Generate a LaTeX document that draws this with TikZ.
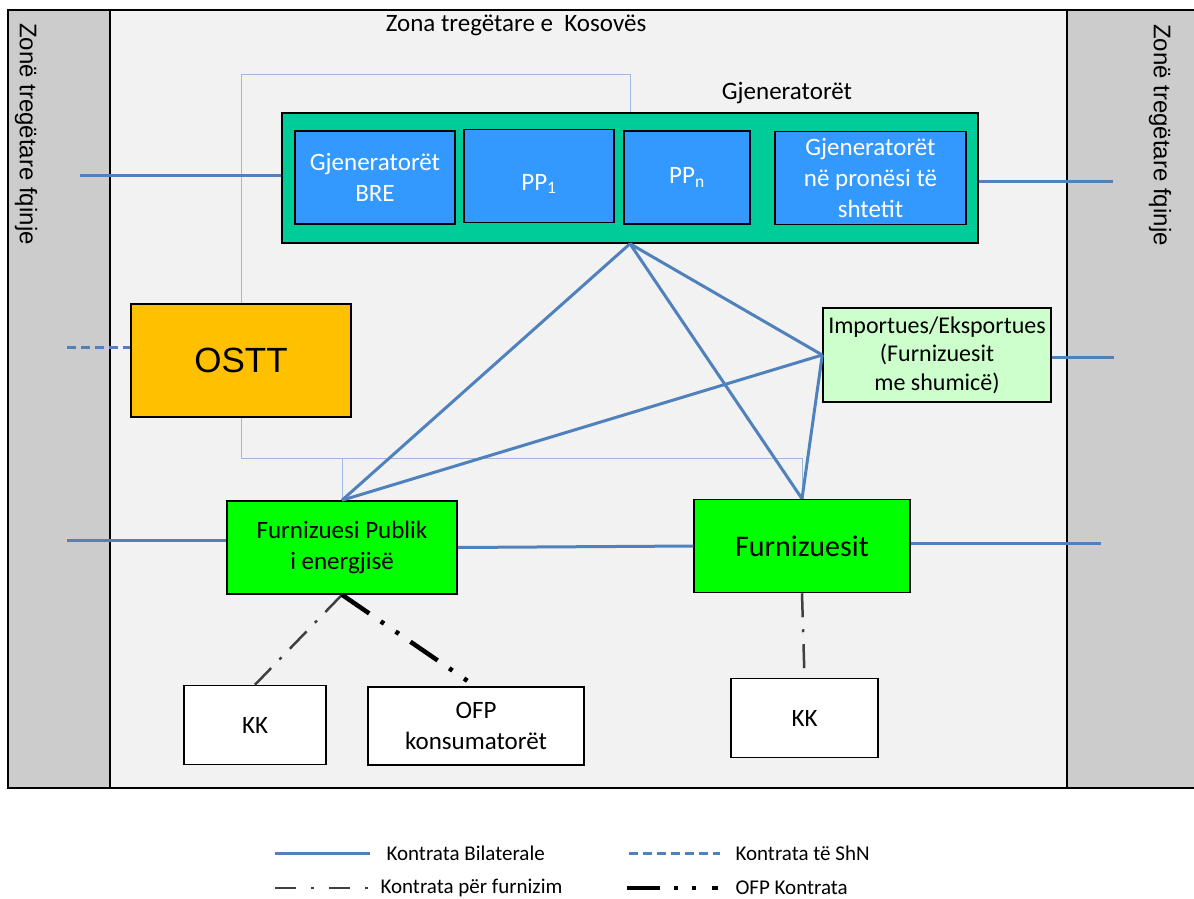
\documentclass[tikz,border=0pt]{standalone}
\usepackage{fontspec}
\setmainfont{Carlito}
\newfontfamily\arialfont{Liberation Sans}
\usepackage{tikz}
\usetikzlibrary{positioning}
\definecolor{zonegray}{HTML}{CCCCCC}
\definecolor{kosovo}{HTML}{F2F2F2}
\definecolor{genteal}{HTML}{00CC99}
\definecolor{genblue}{HTML}{3399FF}
\definecolor{osttorange}{HTML}{FFC000}
\definecolor{impgreen}{HTML}{CCFFCC}
\definecolor{supgreen}{HTML}{00FF00}
\definecolor{linkblue}{HTML}{4F81BD}
\definecolor{gridblue}{HTML}{9DB9DD}
\definecolor{supplygray}{HTML}{404040}

\begin{document}
\begin{tikzpicture}[x=1pt, y=-1pt,
  main text/.style={font=\fontsize{25}{31}\selectfont},
  main box/.style={draw, line width=1.5pt, rectangle, inner sep=2pt, align=center, main text},
  gen sub/.style={main box, fill=genblue, text=white, minimum height=93pt},
  supplier/.style={main box, fill=supgreen, minimum height=93pt},
  consumer/.style={main box, fill=white, minimum height=79pt},
  zone text/.style={font=\arialfont\fontsize{24}{28}\selectfont, rotate=-90},
  legend text/.style={anchor=west, font=\fontsize{21}{25}\selectfont},
  bilateral/.style={linkblue, line width=3pt},
  shn line/.style={bilateral, dash pattern=on 9pt off 5pt},
  supply line/.style={supplygray, line width=2.5pt, dash pattern=on 24pt off 12pt on 3pt off 12pt},
  ofp line/.style={black, line width=4.5pt, dash pattern=on 33pt off 14pt on 4pt off 14pt on 4pt off 14pt},
  grid line/.style={gridblue, line width=1pt}]

\useasboundingbox (0,0) rectangle (1194,899);

% trading zones
\draw[fill=zonegray, line width=1.5pt] (8,10) rectangle (110,788);
\draw[fill=kosovo, line width=1.5pt] (110,10) rectangle (1067,788);
\draw[fill=zonegray, line width=1.5pt] (1067,10) rectangle (1200,788);
\node[zone text] (ZL) at (26,134) {Zonë tregëtare fqinje};
\node[zone text] (ZR) at (1160,135) {Zonë tregëtare fqinje};
\node[main text] (ZK) at (516,25) {Zona tregëtare e\ \ Kosovës};

% generators
\node[main text] (GT) at (787,93) {Gjeneratorët};
\node[main box, fill=genteal, minimum width=696pt, minimum height=130pt] (GEN) at (630,178) {};
\node[gen sub, minimum width=160pt] (BRE) at (375,177.5) {Gjeneratorët\\BRE};
\node[gen sub, minimum width=150pt, label={[white, main text, yshift=-8pt]center:PP\textsubscript{1}}] (PP1) at (539,176) {};
\node[gen sub, minimum width=126pt] (PPN) at (687,177.5) {PP\textsubscript{n}};
\node[gen sub, minimum width=191pt] (SHT) at (870.5,178) {Gjeneratorët\\në pronësi të\\shtetit};

% market participants
\node[main box, fill=osttorange, minimum width=220pt, minimum height=113pt, font=\arialfont\fontsize{35}{40}\selectfont] (OSTT) at (241,360.5) {OSTT};
\node[main box, fill=impgreen, minimum width=228pt, minimum height=94pt, font=\fontsize{24}{28.5}\selectfont] (IMP) at (937,355) {Importues/Eksportues\\(Furnizuesit\\me shumicë)};
\node[supplier, minimum width=230pt] (FP) at (342,547.5) {Furnizuesi Publik\\i energjisë};
\node[supplier, minimum width=216pt, font=\fontsize{30}{36}\selectfont] (FU) at (802,546) {Furnizuesit};
\node[consumer, minimum width=142pt] (KKA) at (255,725) {KK};
\node[consumer, minimum width=216pt, minimum height=78pt] (OFP) at (476,726) {OFP\\konsumatorët};
\node[consumer, minimum width=147pt] (KKB) at (804.5,718) {KK};

% system operator links
\coordinate (top) at (630,75);
\coordinate (bot) at (802,458);
\draw[grid line] (OSTT.north) |- (top) -- (GEN.north);
\draw[grid line] (OSTT.south) |- (bot) -- (FU.north);
\draw[grid line] (FP.north) -- (FP.north |- bot);

% bilateral contracts
\coordinate (a1) at (80,175);
\coordinate (a2) at (1113,181);
\coordinate (a3) at (1114,357);
\coordinate (a4) at (67,540);
\coordinate (a5) at (1101,543);
\coordinate (a6) at (67,347);
\draw[bilateral] (a1) -- (a1 -| GEN.west);
\draw[bilateral] (a2 -| GEN.east) -- (a2);
\draw[bilateral] (a3 -| IMP.east) -- (a3);
\draw[bilateral] (a4) -- (a4 -| FP.west);
\draw[bilateral] (a5 -| FU.east) -- (a5);
\draw[bilateral] (FP.east) -- (FU.west);
\draw[bilateral] (GEN.south) -- (FP.north);
\draw[bilateral] (GEN.south) -- (FU.north);
\draw[bilateral] (GEN.south) -- (IMP.west);
\draw[bilateral] (IMP.west) -- (FP.north);
\draw[bilateral] (IMP.west) -- (FU.north);
\draw[shn line] (a6) -- (a6 -| OSTT.west);

% supply contracts
\draw[supply line] (FP.south) -- (KKA.north);
\draw[ofp line] (FP.south) -- ([xshift=-8pt, yshift=5pt]OFP.north);
\draw[supply line] (FU.south) -- (KKB.north);

% legend
\coordinate (b1) at (275,853);
\coordinate (b2) at (629,853);
\coordinate (b3) at (275,888);
\coordinate (b4) at (627,888);
\draw[bilateral] (b1) -- ++(95,0);
\node[legend text] (L1) at (383,853) {Kontrata Bilaterale};
\draw[shn line] (b2) -- ++(91,0);
\node[legend text] (L2) at (732,853) {Kontrata të ShN};
\draw[supply line, dash pattern=on 21pt off 15pt on 3pt off 15pt] (b3) -- ++(100,0);
\node[legend text] (L3) at (377,888) {Kontrata për furnizim};
\draw[ofp line, line width=4pt, dash pattern=on 33pt off 14pt on 4pt off 14pt on 4pt off 16pt] (b4) -- ++(91,0);
\node[legend text] (L4) at (732,888) {OFP Kontrata};

\end{tikzpicture}
\end{document}
